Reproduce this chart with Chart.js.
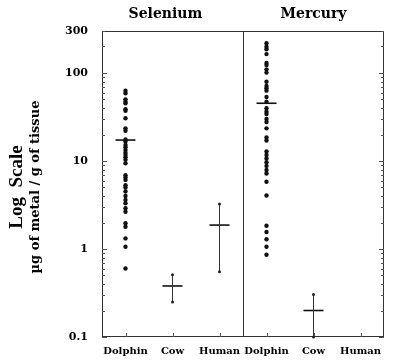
<!DOCTYPE html>
<html>
  <head>
    <meta charset="utf-8" />
    <title>Selenium and Mercury, log scale</title>
    <style>
      body { margin: 0; background: #fff; }
    </style>
  </head>
  <body>
    <canvas id="chart" width="400" height="363"></canvas>
    <script src="https://cdn.jsdelivr.net/npm/chart.js@4.4.0/dist/chart.umd.min.js"></script>
    <script>
      const metals = ["Selenium", "Mercury"];
      const groups = ["Dolphin", "Cow", "Human", "Dolphin", "Cow", "Human"];
      const yTicks = [0.1, 1, 10, 100, 300];

      // individual dolphin samples (µg/g)
      const seDolphin = [
        63, 58.8, 50.2, 47.2, 45.3, 38.7, 37.3, 30.6, 23.5, 22.1, 17.6, 16.6,
        15.2, 14.3, 13.3, 12.4, 11.7, 11, 10.3, 9.4, 6.9, 6.5, 6.1, 5.3, 5,
        4.5, 4, 3.6, 3.3, 2.9, 2.65, 1.96, 1.79, 1.32, 1.06, 0.6
      ];
      const hgDolphin = [
        218, 199, 186, 164, 130, 123, 110, 101, 79.6, 71.1, 67, 63, 53.4,
        47.2, 39.7, 36.3, 34.2, 30, 27.7, 23.5, 18.5, 17.1, 12.8, 11.7, 10.7,
        9.7, 8.8, 7.9, 7.2, 5.8, 4.06, 1.84, 1.56, 1.29, 1.06, 0.86
      ];

      // mean and range for each group (null = nothing drawn)
      const means = [17.3, 0.38, 1.87, 45.3, 0.2, null];
      const rangeLow = [null, 0.25, 0.55, null, 0.1, null];
      const rangeHigh = [null, 0.51, 3.24, null, 0.305, null];

      const dotData = seDolphin
        .map((v) => ({ x: 0.5, y: v }))
        .concat(hgDolphin.map((v) => ({ x: 3.5, y: v })));

      const meanData = [];
      means.forEach((v, i) => {
        if (v != null) meanData.push({ x: i + 0.5, y: v });
      });

      const rangeData = [];
      rangeLow.forEach((lo, i) => {
        if (lo == null) return;
        rangeData.push({ x: i + 0.5, y: lo });
        rangeData.push({ x: i + 0.5, y: rangeHigh[i] });
        rangeData.push({ x: i + 0.5, y: null });
      });

      const serif = "DejaVu Serif";

      const frame = {
        id: "frame",
        beforeDatasetsDraw(chart) {
          const { ctx, chartArea: a, scales } = chart;
          const x = scales.x;
          const y = scales.y;
          ctx.save();
          ctx.strokeStyle = "#333";
          ctx.lineWidth = 1;
          ctx.strokeRect(a.left + 0.5, a.top + 0.5, a.right - a.left - 1, a.bottom - a.top - 1);

          // divider between the two metals
          const xd = Math.round(x.getPixelForValue(3)) + 0.5;
          ctx.beginPath();
          ctx.moveTo(xd, a.top);
          ctx.lineTo(xd, a.bottom);
          ctx.stroke();

          // inward log ticks on left and right edges
          ctx.strokeStyle = "#555";
          ctx.beginPath();
          for (let d = 0.1; d < 1000; d *= 10) {
            for (let k = 1; k <= 9; k++) {
              const v = k * d;
              if (v > 300.001) break;
              const py = Math.round(y.getPixelForValue(v)) + 0.5;
              const len = k === 1 ? 5 : 3;
              ctx.moveTo(a.left, py);
              ctx.lineTo(a.left + len, py);
              ctx.moveTo(a.right, py);
              ctx.lineTo(a.right - len, py);
            }
          }
          // category ticks on the bottom
          groups.forEach((g, i) => {
            const px = Math.round(x.getPixelForValue(i + 0.5)) + 0.5;
            ctx.moveTo(px, a.bottom);
            ctx.lineTo(px, a.bottom - 4);
          });
          ctx.stroke();
          ctx.restore();
        },
        afterDraw(chart) {
          const { ctx, chartArea: a, scales } = chart;
          const x = scales.x;
          ctx.save();
          ctx.fillStyle = "#000";
          ctx.textAlign = "center";
          ctx.textBaseline = "alphabetic";
          ctx.font = "bold 14px '" + serif + "'";
          ctx.fillText(metals[0], x.getPixelForValue(1.35), 18);
          ctx.fillText(metals[1], x.getPixelForValue(4.5), 18);

          const cy = (a.top + a.bottom) / 2 + 3;
          ctx.translate(17, cy);
          ctx.rotate(-Math.PI / 2);
          ctx.textBaseline = "middle";
          ctx.font = "bold 19px 'Liberation Serif'";
          ctx.fillText("Log  Scale", 0, 0);
          ctx.font = "bold 13px '" + serif + "'";
          ctx.fillText("\u00b5g of metal / g of tissue", 0, 19);
          ctx.restore();
        },
      };

      new Chart(document.getElementById("chart"), {
        type: "scatter",
        data: {
          datasets: [
            {
              label: "dolphins",
              data: dotData,
              pointRadius: 2.2,
              pointBackgroundColor: "#111",
              pointBorderWidth: 0,
              clip: false,
            },
            {
              label: "ranges",
              data: rangeData,
              showLine: true,
              spanGaps: false,
              borderColor: "#333",
              borderWidth: 1,
              pointRadius: 1.5,
              pointBackgroundColor: "#222",
              pointBorderWidth: 0,
              clip: false,
            },
            {
              label: "means",
              data: meanData,
              pointStyle: "line",
              pointRadius: 10,
              pointBorderColor: "#111",
              pointBorderWidth: 1.6,
              clip: false,
            },
          ],
        },
        options: {
          responsive: false,
          animation: false,
          layout: { padding: { top: 31, right: 16, left: 0, bottom: 0 } },
          plugins: { legend: { display: false }, tooltip: { enabled: false } },
          scales: {
            x: {
              type: "linear",
              min: 0,
              max: 6,
              grid: { display: false, drawTicks: false },
              border: { display: false },
              afterBuildTicks: (s) => {
                s.ticks = groups.map((g, i) => ({ value: i + 0.5 }));
              },
              afterFit: (s) => {
                s.height = 26;
              },
              ticks: {
                autoSkip: false,
                maxRotation: 0,
                padding: 8,
                color: "#000",
                font: { family: serif, weight: "bold", size: 10 },
                callback: (v, i) => groups[i],
              },
            },
            y: {
              type: "logarithmic",
              min: 0.1,
              max: 300,
              grid: { display: false, drawTicks: false },
              border: { display: false },
              afterBuildTicks: (s) => {
                s.ticks = yTicks.map((v) => ({ value: v }));
              },
              afterFit: (s) => {
                s.width = 102;
              },
              ticks: {
                padding: 14,
                color: "#000",
                font: { family: serif, weight: "bold", size: 11 },
                callback: (v) => String(v),
              },
            },
          },
        },
        plugins: [frame],
      });
    </script>
  </body>
</html>
